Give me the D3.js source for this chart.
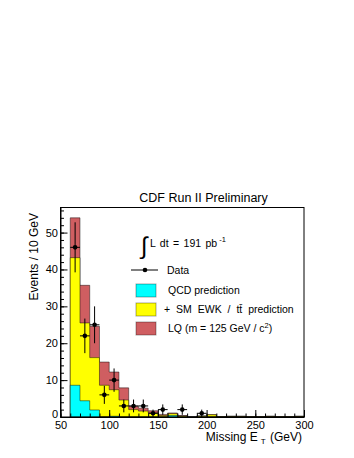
<!DOCTYPE html>
<html><head><meta charset="utf-8">
<script src="https://cdn.jsdelivr.net/npm/d3@7/dist/d3.min.js"></script>
<style>
body{margin:0;background:#fff}
text{font-family:"Liberation Sans",Arial,Helvetica,sans-serif;fill:#000}
</style>
</head><body>
<svg id="c" width="354" height="458"></svg>
<script>
// ---- data ----
const binLow = [60,70,80,90,100,110,120,130,140,150,160,170,180,190,200,210,220,230,240,250,260,270,280,290];
const qcd    = [8.6,4.4,1.9,0,0.2,0,0,0,0,0,0.4,0,0,0,0,0,0,0,0,0,0,0,0,0];
const ewk    = [34.6,21.1,14.2,8.6,7.2,4.6,2.0,1.6,1.1,0.4,0.5,0.3,0,0.3,0.6,0.05,0.15,0.15,0.05,0.05,0.15,0.05,0.05,0.15];
const lq     = [10.8,10.2,8.5,6.3,4.8,3.3,0.9,0.8,0.6,0.3,0.2,0.1,0,0,0.05,0.05,0.1,0.1,0.05,0.05,0.1,0.05,0.05,0.1];
const dataBin   = [60,70,80,90,100,110,120,130,140,150,170,190];
const dataCount = [46,22,25,6,10,3,3,3,1,2,2,1];
const xTicks = [50,100,150,200,250,300];
const yTicks = [0,10,20,30,40,50];
const binWidth = 10;
const legendLabels = ["Data","QCD prediction","+ SM EWK / t\u0074\u0304 prediction","LQ (m = 125 GeV / c"];
const colors = {qcd:"#00ffff", ewk:"#ffff00", lq:"#cf5e61"};

// ---- layout ----
const svg = d3.select("#c");
const X0=60.5, X1=304, Y0=417, Y1=207.5;
const x = d3.scaleLinear().domain([50,300]).range([X0,X1]);
const y = d3.scaleLinear().domain([0,56.8]).range([Y0,Y1]);

// stacked cumulative
const s1 = qcd.slice();
const s2 = qcd.map((v,i)=>v+ewk[i]);
const s3 = s2.map((v,i)=>v+lq[i]);

function histPoints(vals){
  const pts=[[binLow[0],0]];
  vals.forEach((v,i)=>{pts.push([binLow[i],v],[binLow[i]+binWidth,v]);});
  pts.push([binLow[binLow.length-1]+binWidth,0]);
  return pts;
}
const line = d3.line().x(d=>x(d[0])).y(d=>y(d[1]));
[[s3,colors.lq],[s2,colors.ewk],[s1,colors.qcd]].forEach(([vals,col])=>{
  svg.append("path").attr("d",line(histPoints(vals))+"Z")
    .attr("fill",col).attr("stroke","rgba(0,0,0,0.45)").attr("stroke-width",1);
});

// data points
const dg = svg.append("g");
dataBin.forEach((b,i)=>{
  const n=dataCount[i], c=b+binWidth/2, e=Math.sqrt(n);
  dg.append("line").attr("x1",x(b)).attr("x2",x(b+binWidth)).attr("y1",y(n)).attr("y2",y(n)).attr("stroke","#000");
  dg.append("line").attr("x1",x(c)).attr("x2",x(c)).attr("y1",y(n-e)).attr("y2",y(n+e)).attr("stroke","#000");
  dg.append("circle").attr("cx",x(c)).attr("cy",y(n)).attr("r",2.3).attr("fill","#000");
});

// frame
svg.append("rect").attr("x",X0).attr("y",Y1).attr("width",X1-X0).attr("height",Y0-Y1)
  .attr("fill","none").attr("stroke","#000").attr("stroke-width",1);

// axes
const yAx = svg.append("g").attr("transform",`translate(${X0},0)`)
  .call(d3.axisLeft(y).tickValues(yTicks).tickSize(-7).tickSizeOuter(0).tickPadding(2.5));
svg.append("g").attr("transform",`translate(${X0},0)`)
  .call(d3.axisLeft(y).tickValues(d3.range(0,57,2)).tickSize(-3.5).tickFormat("")).select(".domain").remove();
svg.append("g").attr("transform",`translate(0,${Y0})`)
  .call(d3.axisBottom(x).tickValues(xTicks).tickSize(-7).tickSizeOuter(0).tickPadding(4.5));
svg.append("g").attr("transform",`translate(0,${Y0})`)
  .call(d3.axisBottom(x).tickValues(d3.range(50,301,10)).tickSize(-3.5).tickFormat("")).select(".domain").remove();
svg.selectAll(".tick text").attr("font-size",11).attr("font-family","Liberation Sans, Arial, sans-serif").attr("fill","#000");
svg.selectAll(".domain").attr("stroke","#000");
svg.selectAll(".tick line").attr("stroke","#000");
// nudge the "0" label up slightly so it does not collide with the "50" x label
yAx.selectAll(".tick").filter(d=>d===0).select("text").attr("dy","0.05em");

// titles
svg.append("text").attr("x",203.5).attr("y",202).attr("text-anchor","middle").attr("font-size",12.5)
  .text("CDF Run II Preliminary");
svg.append("text").attr("transform","translate(38,213) rotate(-90)").attr("text-anchor","end")
  .attr("font-size",12).text("Events / 10 GeV");
const xt = svg.append("text").attr("x",302).attr("y",441).attr("text-anchor","end").attr("font-size",12);
xt.append("tspan").text("Missing E");
xt.append("tspan").attr("dx",3).attr("dy",3).attr("font-size",8).text("T");
xt.append("tspan").attr("dx",1).attr("dy",-3).text(" (GeV)");

// legend
svg.append("text").attr("x",141).attr("y",254).attr("font-size",24).text("\u222B");
const lum = svg.append("text").attr("x",150).attr("y",247).attr("font-size",10.5).attr("word-spacing",1.5);
lum.append("tspan").text("L dt = 191 pb");
lum.append("tspan").attr("dx",2).attr("dy",-5).attr("font-size",7.5).attr("word-spacing",0).text("-1");

svg.append("line").attr("x1",131).attr("x2",158).attr("y1",270).attr("y2",270).attr("stroke","#000");
svg.append("circle").attr("cx",145).attr("cy",270).attr("r",2.3).attr("fill","#000");
svg.append("text").attr("x",167).attr("y",273.5).attr("font-size",10.5).text(legendLabels[0]);

const boxes=[[colors.qcd,284,legendLabels[1],168],[colors.ewk,303,legendLabels[2],164],[colors.lq,322,legendLabels[3],168]];
boxes.forEach(([col,by,lab,tx],i)=>{
  svg.append("rect").attr("x",136).attr("y",by).attr("width",20).attr("height",13)
    .attr("fill",col).attr("stroke","rgba(0,0,0,0.35)").attr("stroke-width",1);
  const t=svg.append("text").attr("x",tx).attr("y",by+10).attr("font-size",10.5).attr("word-spacing",i===1?3:0).text(lab);
  if(i===2){
    t.append("tspan").attr("dy",-4).attr("font-size",7.5).text("2");
    t.append("tspan").attr("dy",4).text(")");
  }
});
</script>
</body></html>
